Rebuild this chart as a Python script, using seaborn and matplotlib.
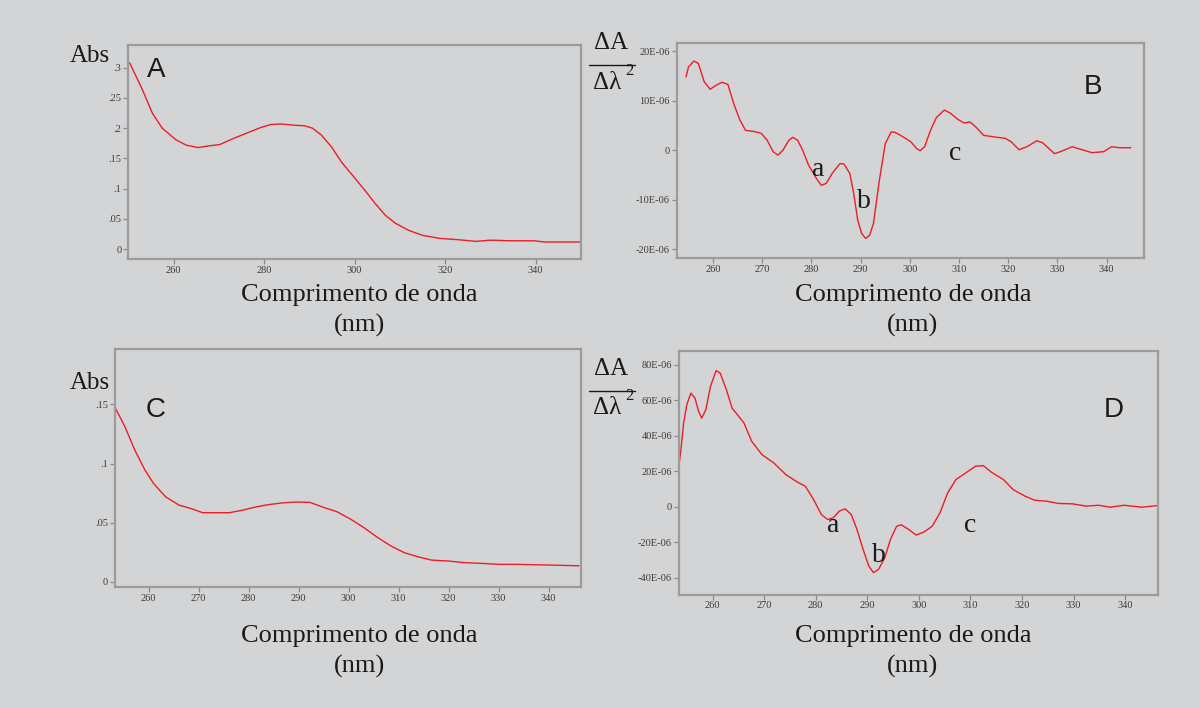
import numpy as np
import pandas as pd
import matplotlib
matplotlib.use("Agg")
import matplotlib.pyplot as plt
from matplotlib.lines import Line2D
import seaborn as sns

# ---------------- data ----------------
# Panel A: absorbance spectrum
a_nm = [250.3, 253.1, 255.3, 257.5, 260.5, 262.8, 265.4, 268.0, 270.2, 273.2, 276.2, 279.2,
        281.4, 283.7, 286.6, 288.9, 290.7, 292.6, 294.9, 297.1, 300.1, 302.3, 304.6, 306.8,
        309.0, 312.0, 315.0, 318.7, 322.5, 326.9, 329.9, 334.4, 339.6, 341.9, 350.0]
a_abs = [0.308, 0.264, 0.225, 0.200, 0.181, 0.172, 0.168, 0.171, 0.173, 0.183, 0.192, 0.201,
         0.206, 0.207, 0.205, 0.204, 0.200, 0.189, 0.169, 0.144, 0.117, 0.097, 0.075, 0.056,
         0.043, 0.031, 0.023, 0.018, 0.016, 0.013, 0.015, 0.014, 0.014, 0.012, 0.012]

# Panel B: second derivative (units of 1E-06)
b_nm = [254.5, 255.0, 256.1, 257.0, 258.2, 259.4, 260.6, 261.8, 263.0, 264.2, 265.4, 266.6,
        268.2, 269.8, 271.0, 272.2, 273.2, 274.2, 275.4, 276.2, 277.2, 278.2, 279.4, 281.0,
        282.0, 283.0, 284.2, 285.8, 286.6, 287.8, 288.6, 289.4, 290.2, 291.0, 291.8, 292.6,
        293.8, 295.0, 296.2, 297.0, 298.6, 300.2, 301.4, 302.1, 303.0, 304.2, 305.4, 307.0,
        308.2, 309.8, 311.0, 312.2, 313.4, 315.0, 317.0, 319.4, 320.6, 322.2, 323.8, 325.8,
        327.0, 329.4, 330.6, 333.0, 335.0, 337.0, 339.4, 341.0, 342.6, 344.9]
b_d2 = [14.8, 16.8, 18.0, 17.5, 13.8, 12.3, 13.1, 13.7, 13.3, 9.4, 6.2, 4.0,
        3.8, 3.4, 2.0, -0.3, -1.0, 0.0, 2.0, 2.6, 2.0, 0.0, -3.0, -5.7,
        -7.1, -6.7, -4.7, -2.7, -2.8, -4.7, -8.8, -14.1, -16.8, -17.8, -17.2, -14.8,
        -6.1, 1.3, 3.7, 3.6, 2.7, 1.7, 0.3, -0.1, 0.7, 4.0, 6.6, 8.1,
        7.5, 6.2, 5.5, 5.7, 4.7, 3.0, 2.7, 2.4, 1.7, 0.1, 0.7, 1.9,
        1.5, -0.7, -0.3, 0.7, 0.1, -0.5, -0.3, 0.7, 0.5, 0.5]

# Panel C: absorbance spectrum
c_nm = [253.4, 255.3, 257.3, 259.3, 261.0, 263.4, 266.1, 268.8, 270.8, 273.5, 276.2, 278.9,
        281.6, 284.3, 287.0, 289.6, 292.3, 295.0, 297.7, 300.4, 303.1, 305.8, 308.5, 311.2,
        313.9, 316.6, 320.0, 323.3, 326.7, 330.1, 333.4, 336.8, 340.2, 346.1]
c_abs = [0.1466, 0.131, 0.111, 0.0944, 0.0832, 0.0719, 0.0648, 0.0615, 0.0584, 0.0584, 0.0584, 0.0606,
         0.0634, 0.0654, 0.0668, 0.0674, 0.0671, 0.0629, 0.0592, 0.0530, 0.0457, 0.0375, 0.0302, 0.0245,
         0.0211, 0.0183, 0.0175, 0.0161, 0.0155, 0.0147, 0.0147, 0.0144, 0.0141, 0.0135]

# Panel D: second derivative (units of 1E-06)
d_nm = [253.3, 253.8, 254.4, 255.0, 255.8, 256.6, 257.3, 257.9, 258.7, 259.6, 260.7, 261.5,
        262.7, 263.8, 265.0, 266.1, 267.6, 269.6, 271.9, 274.2, 276.5, 278.0, 279.6, 281.1,
        282.3, 283.4, 284.6, 285.7, 286.9, 288.0, 289.2, 290.3, 291.2, 292.2, 293.4, 294.5,
        295.7, 296.6, 298.0, 299.5, 301.0, 302.6, 304.1, 305.6, 307.2, 309.1, 311.0, 312.5,
        314.1, 316.4, 318.3, 320.6, 322.5, 324.8, 327.1, 329.8, 332.5, 334.8, 337.1, 339.8,
        343.2, 346.3]
d_d2 = [19.1, 30.4, 47.2, 57.5, 64.1, 61.3, 53.8, 50.0, 54.7, 67.8, 76.8, 75.3,
        65.9, 55.6, 51.3, 47.2, 36.9, 29.4, 24.7, 18.2, 13.9, 11.6, 4.1, -4.3,
        -7.1, -6.2, -2.4, -1.1, -4.3, -12.7, -24.0, -33.3, -37.1, -35.2, -28.7, -18.4,
        -10.9, -10.1, -12.7, -15.9, -14.2, -10.9, -3.4, 7.9, 15.4, 19.1, 22.9, 23.2,
        19.5, 15.4, 9.7, 6.0, 3.7, 3.2, 1.9, 1.7, 0.4, 0.9, -0.2, 0.9,
        -0.2, 0.7]

# tick values / labels
a_xticks = [260, 280, 300, 320, 340]
a_yticks = [0, 0.05, 0.1, 0.15, 0.2, 0.25, 0.3]
a_ylabels = ["0", ".05", ".1", ".15", ".2", ".25", ".3"]
b_xticks = [260, 270, 280, 290, 300, 310, 320, 330, 340]
b_yticks = [-20, -10, 0, 10, 20]
b_ylabels = ["-20E-06", "-10E-06", "0", "10E-06", "20E-06"]
c_xticks = [260, 270, 280, 290, 300, 310, 320, 330, 340]
c_yticks = [0, 0.05, 0.1, 0.15]
c_ylabels = ["0", ".05", ".1", ".15"]
d_xticks = [260, 270, 280, 290, 300, 310, 320, 330, 340]
d_yticks = [-40, -20, 0, 20, 40, 60, 80]
d_ylabels = ["-40E-06", "-20E-06", "0", "20E-06", "40E-06", "60E-06", "80E-06"]

xlabel_text = "Comprimento de onda"
xunit_text = "(nm)"

# ---------------- style ----------------
BG = "#d3d4d6"
LINE = "#ee1c25"
SPINE = "#9c9c9c"
SERIF = ["Liberation Serif", "DejaVu Serif"]
SANS = ["Liberation Sans", "DejaVu Sans"]

sns.set_theme(style="white")
plt.rcParams["font.family"] = SERIF

W, H = 1200, 708
fig = plt.figure(figsize=(W / 100, H / 100), dpi=100, facecolor=BG)


def ax_at(left, top, right, bottom):
    return fig.add_axes([left / W, 1 - bottom / H, (right - left) / W, (bottom - top) / H])


def style_ax(ax, xlim, ylim, xticks, yticks, ylabels):
    ax.set_facecolor(BG)
    ax.set_xlim(*xlim)
    ax.set_ylim(*ylim)
    ax.set_xticks(xticks)
    ax.set_xticklabels([str(t) for t in xticks])
    ax.set_yticks(yticks)
    ax.set_yticklabels(ylabels)
    for s in ax.spines.values():
        s.set_visible(True)
        s.set_color(SPINE)
        s.set_linewidth(1.6)
    ax.tick_params(axis="both", which="major", direction="out", length=3.5, width=0.9,
                   color="#8a8a8a", labelsize=7.5, labelcolor="#3a3a3a", pad=1.5,
                   bottom=True, left=True)
    for lab in ax.get_xticklabels() + ax.get_yticklabels():
        lab.set_family(SERIF)
    ax.set_xlabel("")
    ax.set_ylabel("")
    ax.grid(False)


def fig_text(x, y, s, **kw):
    fig.text(x / W, 1 - y / H, s, ha=kw.pop("ha", "center"), va=kw.pop("va", "center"), **kw)


# Panel A
axA = ax_at(128.3, 44.7, 581, 259.3)
sns.lineplot(x=a_nm, y=a_abs, ax=axA, color=LINE, linewidth=1.0)
style_ax(axA, (250, 350), (-0.0166, 0.338), a_xticks, a_yticks, a_ylabels)

# Panel B
axB = ax_at(676.7, 42.7, 1143.5, 258.0)
sns.lineplot(x=b_nm, y=b_d2, ax=axB, color=LINE, linewidth=1.0)
style_ax(axB, (252.6, 347.5), (-21.76, 21.7), b_xticks, b_yticks, b_ylabels)

# Panel C
axC = ax_at(115, 349.3, 581, 586.7)
sns.lineplot(x=c_nm, y=c_abs, ax=axC, color=LINE, linewidth=1.0)
style_ax(axC, (253.3, 346.5), (-0.0042, 0.1966), c_xticks, c_yticks, c_ylabels)

# Panel D
axD = ax_at(679, 350.7, 1157.6, 594.5)
sns.lineplot(x=d_nm, y=d_d2, ax=axD, color=LINE, linewidth=1.0)
style_ax(axD, (253.5, 346.3), (-49.4, 88.0), d_xticks, d_yticks, d_ylabels)

# Panel letters
fig_text(156, 70, "A", family=SANS, fontsize=20, color="#1a1a1a")
fig_text(1093, 87, "B", family=SANS, fontsize=20, color="#1a1a1a")
fig_text(156, 410, "C", family=SANS, fontsize=20, color="#1a1a1a")
fig_text(1114, 410, "D", family=SANS, fontsize=20, color="#1a1a1a")

# "Abs" labels
fig_text(90, 56, "Abs", family=SERIF, fontsize=18, color="#1a1a1a")
fig_text(90, 383, "Abs", family=SERIF, fontsize=18, color="#1a1a1a")

# Delta A / Delta lambda^2 labels
for (cy_top, cy_line, cy_bot) in [(43.3, 65, 83.3), (369.3, 391, 408)]:
    fig_text(611, cy_top, "ΔA", family=SERIF, fontsize=18, color="#1a1a1a")
    fig.add_artist(Line2D([589 / W, 635 / W], [1 - cy_line / H, 1 - cy_line / H],
                          color="#1a1a1a", linewidth=1.0, transform=fig.transFigure))
    fig_text(607, cy_bot, "Δλ", family=SERIF, fontsize=18, color="#1a1a1a")
    fig_text(629, cy_bot - 12, "2", family=SERIF, fontsize=12, color="#1a1a1a")

# x-axis labels
for cx, y1, y2 in [(359, 295, 325), (913, 295, 325), (359, 636, 666), (913, 636, 666)]:
    fig_text(cx, y1, xlabel_text, family=SERIF, fontsize=19, color="#1a1a1a")
    fig_text(cx, y2, xunit_text, family=SERIF, fontsize=19, color="#1a1a1a")

# a, b, c annotations
for x, y, s in [(818, 170, "a"), (863.5, 202, "b"), (955, 153, "c"),
                (833, 525, "a"), (879, 556, "b"), (970, 525, "c")]:
    fig_text(x, y, s, family=SERIF, fontsize=20, color="#1a1a1a")

fig.savefig("out.png", dpi=100, facecolor=BG)
